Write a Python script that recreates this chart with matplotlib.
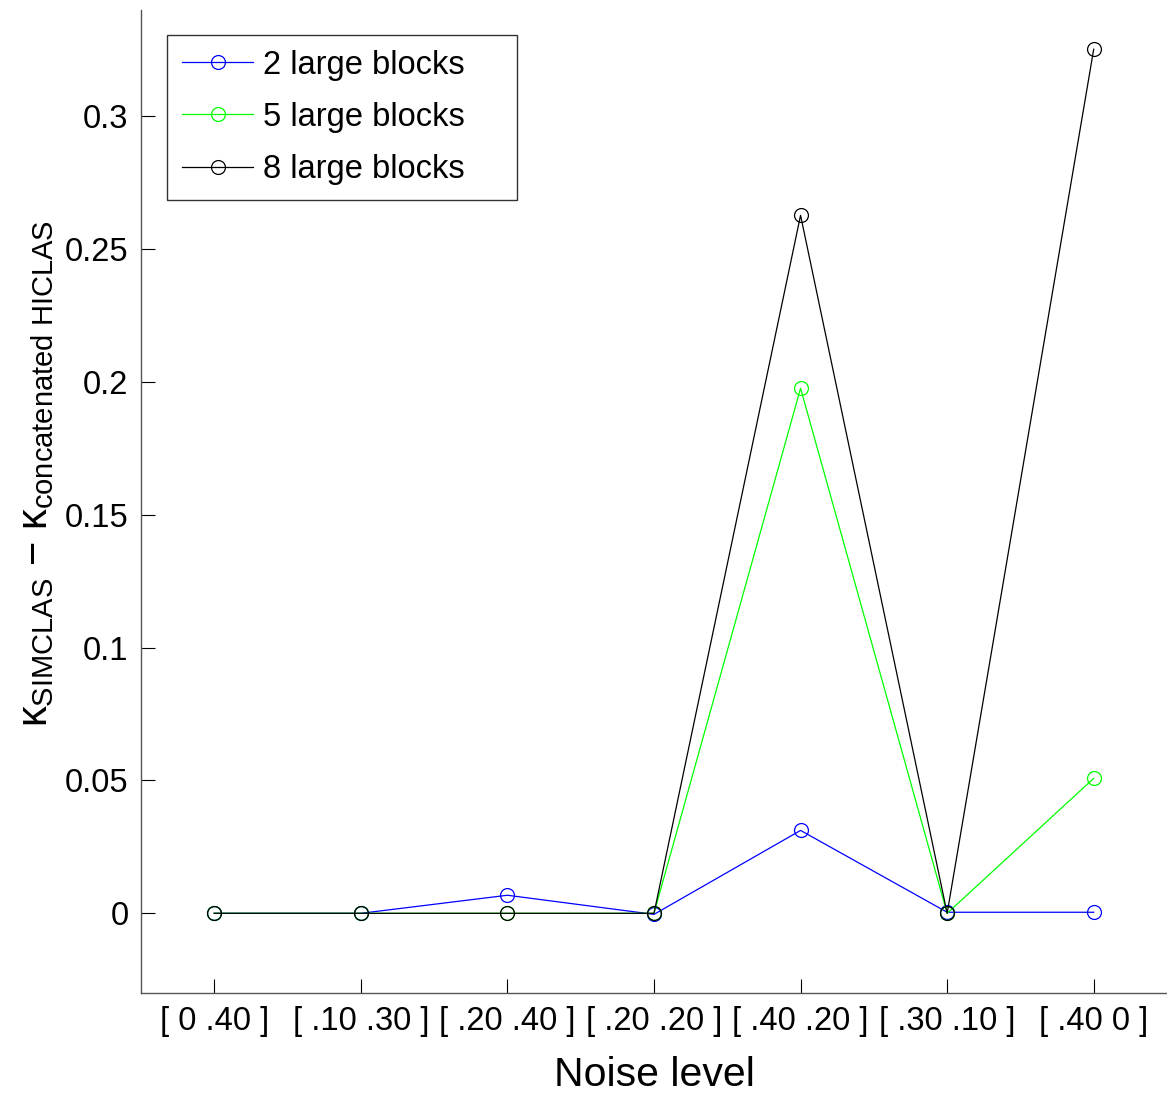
import matplotlib.pyplot as plt

plt.rcParams['font.family'] = ['Liberation Sans', 'DejaVu Sans']
plt.rcParams['mathtext.fontset'] = 'custom'
plt.rcParams['mathtext.rm'] = 'Liberation Sans'
plt.rcParams['mathtext.it'] = 'Liberation Sans'

# Дані з графіка
noise_labels = ["[ 0 .40 ]", "[ .10 .30 ]", "[ .20 .40 ]", "[ .20 .20 ]",
                "[ .40 .20 ]", "[ .30 .10 ]", "[ .40 0 ]"]
x_pos = [1, 2, 3, 4, 5, 6, 7]
blocks2 = [0.0, 0.0, 0.0068, -0.0004, 0.0312, 0.0004, 0.0004]
blocks5 = [0.0, 0.0, 0.0, 0.0, 0.1976, 0.0, 0.0508]
blocks8 = [0.0, 0.0, 0.0, 0.0, 0.2627, 0.0, 0.3252]

fig = plt.figure(figsize=(11.67, 10.98), dpi=100)
ax = fig.add_axes([0.1208, 0.0956, 0.8792, 0.8954])

ax.plot(x_pos, blocks2, color="#0000ff", marker="o", mfc="none", ms=10, lw=0.9, mew=0.9, label="2 large blocks")
ax.plot(x_pos, blocks5, color="#00ff00", marker="o", mfc="none", ms=10, lw=0.9, mew=0.9, label="5 large blocks")
ax.plot(x_pos, blocks8, color="black", marker="o", mfc="none", ms=10, lw=0.9, mew=0.9, label="8 large blocks")

ax.set_xlim(0.5, 7.5)
ax.set_ylim(-0.03, 0.34)
ax.set_xticks(x_pos)
ax.set_xticklabels(noise_labels)
ax.set_yticks([0, 0.05, 0.1, 0.15, 0.2, 0.25, 0.3])
ax.set_yticklabels(["0", "0.05", "0.1", "0.15", "0.2", "0.25", "0.3"])
ax.tick_params(direction="in", length=10, width=0.8, labelsize=23.5, pad=9)

for side in ["top", "right"]:
    ax.spines[side].set_visible(False)
for side in ["left", "bottom"]:
    ax.spines[side].set_color("#555555")
    ax.spines[side].set_linewidth(1.0)

ax.set_xlabel("Noise level", fontsize=29.5, labelpad=14)
ax.set_ylabel(r"$\kappa_{\mathrm{SIMCLAS}}\ \mathrm{-}\ \kappa_{\mathrm{concatenated\ HICLAS}}$", fontsize=30)
ax.yaxis.set_label_coords(-0.083, 0.528)

leg = ax.legend(loc="upper left", bbox_to_anchor=(0.0253, 0.0, 0.3411, 0.9745), mode="expand",
                borderaxespad=0, fontsize=23.5,
                frameon=True, fancybox=False, edgecolor="black", handlelength=2.2,
                handletextpad=0.3, borderpad=0.45, labelspacing=0.65)
leg.get_frame().set_linewidth(1.0)

plt.savefig("out.png", dpi=100)
